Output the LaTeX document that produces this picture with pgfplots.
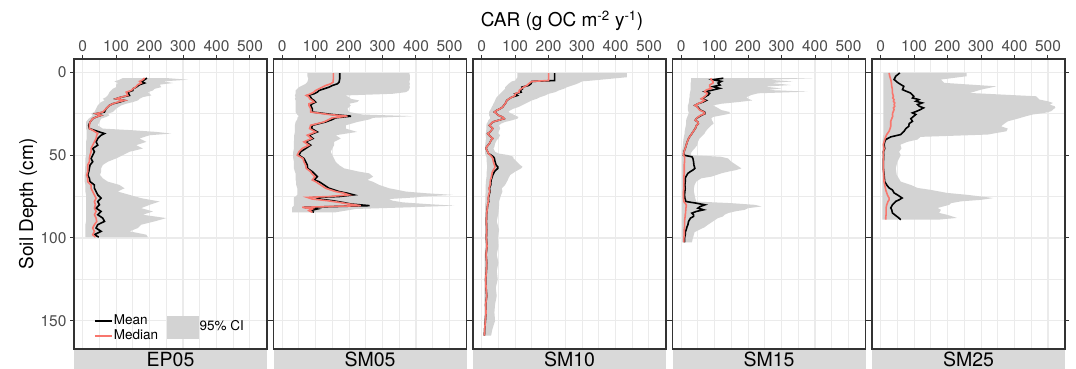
\documentclass[border=0pt]{standalone}
\usepackage{fontspec}
\setmainfont{TeX Gyre Heros}
\usepackage{pgfplots}
\pgfplotsset{compat=1.18}
\usepackage{pgfplotstable}
\usepgfplotslibrary{fillbetween}

\definecolor{medred}{HTML}{F8766D}
\definecolor{cigrey}{HTML}{D3D3D3}
\definecolor{stripgrey}{HTML}{D9D9D9}
\definecolor{gridgrey}{HTML}{EBEBEB}
\definecolor{ticklab}{HTML}{4D4D4D}
\definecolor{framec}{HTML}{333333}

\pgfplotstableread{
d mean med lo hi
3.5 192 185 120 250
4.5 185 180 110 315
5.5 175 170 95 240
6.5 185 175 105 270
7.5 170 165 100 230
9 160 158 100 235
10 150 150 90 215
11 150 145 85 210
12 135 130 80 195
14 140 135 75 205
15 115 115 70 180
16 100 100 60 170
17 125 125 65 165
18 110 105 55 150
19 90 90 50 130
20 80 80 45 115
22 70 70 40 100
24 65 60 35 90
25 40 40 25 75
26 55 55 30 80
27 40 40 25 70
28 30 30 18 55
30 22 22 10 50
32 18 20 10 45
34 20 20 10 60
35 35 30 12 150
36 50 38 12 220
37 65 45 12 265
38 55 42 12 200
40 45 40 12 170
42 40 35 10 190
44 45 30 10 160
46 30 25 10 180
48 35 25 10 140
50 30 22 10 120
52 25 20 8 100
54 30 20 8 75
56 22 15 8 60
58 20 15 7 55
60 18 15 7 55
62 15 12 6 52
64 20 15 6 60
66 22 15 6 75
68 35 25 8 110
70 35 25 8 125
72 40 30 8 105
74 45 35 10 140
76 55 40 10 175
78 45 35 10 230
80 50 38 10 200
82 40 35 10 175
84 55 40 10 210
86 45 35 10 180
88 60 40 10 250
90 65 42 10 215
92 45 35 8 175
94 40 30 8 165
96 55 35 8 140
98 35 30 8 190
99.5 48 38 8 195
}\tabEP

\pgfplotstableread{
d mean med lo hi
0.6 172 153 75 380
2 172 153 75 382
4 172 153 78 382
6 170 152 75 380
7 165 145 70 382
8 150 130 60 380
9 140 120 50 382
10 125 110 45 380
11 110 100 40 378
12 105 95 40 370
13 95 85 40 330
14 76 72 38 189
15 85 80 40 200
16 88 82 38 205
17 95 90 40 230
18 100 95 40 224
19 90 80 40 200
20 85 80 40 205
22 90 85 40 195
24 90 85 40 200
25.5 150 140 45 240
26.5 206 195 50 392
27.5 160 150 45 272
28.5 150 140 45 260
30 130 125 40 225
32 90 85 38 190
34 88 82 38 190
36 105 100 38 224
38 80 75 36 160
40 92 88 36 175
42 70 65 35 155
44 85 80 35 155
46 70 60 35 150
48 55 50 33 145
50 50 45 33 150
52 65 62 33 155
54 70 65 35 160
56 75 70 35 170
58 76 72 35 185
60 90 85 38 230
61 95 88 40 260
63 105 98 40 272
65 95 90 40 255
66 110 100 42 270
68 125 115 42 290
70 140 130 45 320
72 170 160 45 370
73 195 185 45 430
74 214 200 45 510
75 170 140 40 420
75.5 100 75 35 400
76.5 110 90 35 320
77.5 150 135 35 330
78.5 180 170 35 360
79.5 205 200 35 430
80.5 261 235 35 515
81.5 65 60 30 380
82.5 105 90 30 220
83.5 85 80 30 190
84.5 95 90 30 160
}\tabSMa

\pgfplotstableread{
d mean med lo hi
0.6 218 200 107 434
3 218 200 107 434
5 218 200 100 330
5.5 150 150 90 300
7 147 140 80 285
8 140 135 75 270
9 120 125 70 255
10 122 118 70 245
11 115 112 65 230
12 118 112 60 220
13 100 100 55 200
14 107 100 50 190
15 90 90 45 175
16 82 82 42 165
17 75 75 40 150
18 73 73 38 140
19 70 70 35 130
20 66 66 33 120
21 63 63 30 110
22 55 55 28 95
23 45 45 25 85
24 38 38 22 80
25 45 45 22 90
26 50 50 22 100
27 62 62 25 110
28 67 67 25 107
29 50 50 20 90
30 33 33 18 70
31 28 28 15 58
32 23 23 14 52
34 33 33 14 55
36 25 25 13 50
37 18 18 12 50
38 22 22 12 55
40 33 33 13 50
41 28 28 12 45
43 23 23 11 40
45 15 15 10 38
46 13 13 10 35
48 18 18 10 40
49 20 20 10 50
50 28 25 12 80
51 35 30 14 95
52 38 33 15 95
54 40 35 15 105
56 43 38 16 115
57 48 40 16 122
58 48 38 16 118
60 38 32 15 100
62 33 30 15 85
64 30 28 14 80
65 28 26 13 78
68 27 25 12 70
70 23 22 12 60
72 25 24 12 62
74 22 21 11 58
76 20 19 11 55
78 21 20 11 52
80 18 18 10 52
85 15 15 10 50
90 14 14 10 45
95 15 15 10 52
100 14 14 10 48
105 16 16 10 50
110 13 13 9 45
115 15 15 9 50
120 14 14 9 45
125 12 12 8 48
130 13 13 8 42
135 15 15 8 45
140 12 12 8 40
145 13 13 8 38
150 11 11 7 40
155 9 9 6 32
159 8 8 5 28
}\tabSMb

\pgfplotstableread{
d mean med lo hi
3.6 126 88 30 393
4.5 95 90 30 260
5.5 120 95 30 333
6.5 110 95 28 270
7.7 116 85 28 327
8.7 95 85 28 250
9.7 115 90 28 300
10.7 95 75 28 260
11.7 71 70 27 378
12.7 85 78 26 230
13.7 81 75 25 210
15 70 68 25 195
16 62 60 24 200
17 75 70 24 213
18 65 62 23 170
19 50 50 22 120
20 41 41 20 95
21 50 48 20 105
22.8 57 55 20 120
24 70 68 22 145
25 71 70 22 145
26 60 58 20 120
27 52 50 18 95
28 45 45 16 90
29 42 42 15 92
30 50 50 15 95
31 51 51 15 97
32 46 46 14 90
34 42 42 12 80
36 35 35 10 72
37 32 32 10 70
39 25 25 8 60
40 22 22 7 55
42 18 18 6 50
44 15 15 5 48
46 12 12 4 40
47 10 10 3 35
48.5 8 8 2 30
50 7 7 2 30
51 32 10 2 119
52 35 10 3 140
54 37 10 3 150
56 38 9 3 165
58 41 9 3 180
59 35 9 3 165
60 27 9 3 140
61 20 9 3 120
63 14 8 3 90
64 12 8 3 60
66 12 8 3 45
68 11 8 3 40
70 12 8 3 38
72 11 7 3 38
74 10 7 3 40
76 11 7 3 42
78 14 8 3 45
79 45 12 3 150
80 71 15 3 220
81 57 15 3 240
82 50 14 3 200
83 67 14 3 190
84 45 13 3 160
85 32 13 3 140
86 37 12 3 130
87 37 12 3 125
88 28 11 3 110
90 22 10 3 95
92 20 10 3 80
93.5 17 10 3 70
95 15 9 3 55
96.5 12 9 3 40
98 12 9 3 38
100 10 8 3 35
102.6 10 8 3 32
}\tabSMc

\pgfplotstableread{
d mean med lo hi
0.4 57 25 8 257
2.4 45 27 8 257
4.4 40 30 8 180
6.4 52 32 8 190
8.5 69 33 8 346
10.5 65 35 8 300
12.5 89 35 8 267
14.5 99 38 8 465
15.5 95 36 8 470
16.5 114 40 8 475
17.5 105 38 8 500
18.5 124 42 8 515
19.5 110 40 8 505
20.5 115 42 8 520
21.5 128 38 8 522
22.5 119 40 8 515
23.5 108 38 8 510
24.5 95 36 8 490
25.5 105 35 8 455
26.5 99 36 8 435
28 90 33 8 410
29.6 95 30 8 380
31 85 30 8 370
32.6 84 30 8 360
34 75 28 8 380
35.6 70 25 8 376
37.6 60 18 8 320
39 30 15 7 119
40.6 15 12 6 110
42 12 10 6 80
43.7 10 8 5 59
46 12 10 5 62
48 8 8 5 55
50 9 8 5 60
54 8 8 5 50
58 8 8 5 45
62 10 9 5 48
66 12 10 5 60
68 18 12 5 90
69.8 25 14 5 110
71 35 15 5 150
72.8 40 18 5 198
74 50 20 5 260
75.9 64 25 5 337
77 55 25 5 300
77.9 45 22 5 240
79 40 20 5 210
80 35 18 5 205
81.9 30 16 5 170
83 33 16 5 180
84.9 35 16 5 175
86 42 16 5 198
87.9 54 15 5 228
89 60 15 5 170
}\tabSMd

\pgfplotsset{panel/.style={
  scale only axis, width=193pt, height=290pt, anchor=south west,
  y dir=reverse, xmin=-26, xmax=551, ymin=-8, ymax=167,
  xtick={0,100,...,500}, minor xtick={50,150,...,450},
  ytick={0,50,100,150}, minor ytick={25,75,125},
  xtick pos=right, xticklabel pos=right,
  ytick pos=both, yticklabel pos=left,
  tick align=outside, major tick length=4pt, minor tick length=0pt,
  grid=both,
  major grid style={gridgrey, line width=1.1pt},
  minor grid style={gridgrey, line width=0.9pt},
  axis line style={framec, line width=1.2pt},
  major tick style={framec, line width=1pt},
  tick label style={ticklab, font=\fontsize{15.5}{16}\selectfont},
  /pgf/number format/assume math mode=true,
  scaled ticks=false,
}}

\newcommand{\drawpanel}[1]{%
  \addplot[draw=none, forget plot, name path=hi] table[x=hi, y=d] {#1};
  \addplot[draw=none, forget plot, name path=lo] table[x=lo, y=d] {#1};
  \addplot[cigrey, fill=cigrey, draw=none, forget plot] fill between[of=hi and lo, reverse=true];
  \addplot[black, line width=1.6pt, forget plot] table[x=mean, y=d] {#1};
  \addplot[medred, line width=1.6pt, forget plot] table[x=med, y=d] {#1};
}

\begin{document}
\begin{tikzpicture}[x=1pt, y=1pt]

% Panel 1
\begin{axis}[panel, at={(74pt,20pt)},
  ylabel={Soil Depth (cm)},
  every axis y label/.style={at={(rel axis cs:-0.238,0.5)}, rotate=90, anchor=center, font=\fontsize{19}{19}\selectfont},
  legend columns=2,
  legend cell align=left,
  legend style={at={(0.088,0.014)}, anchor=south west, draw=none, fill=none,
    font=\fontsize{13.5}{13.5}\selectfont, row sep=0.5pt,
    nodes={inner sep=1pt, text height=9.5pt, text depth=2.5pt},
    /tikz/every even column/.append style={column sep=8pt}},
]
\drawpanel{\tabEP}
\addlegendimage{black, line width=1.6pt}
\addlegendentry{Mean}
\addlegendimage{legend image code/.code={\path (0pt,0pt) rectangle (31pt,0pt); \fill[cigrey, overlay] (0pt,-17pt) rectangle (31pt,5pt);}}
\addlegendentry{\raisebox{-6pt}{95\% CI}}
\addlegendimage{draw=medred, line width=1.6pt}
\addlegendentry{Median}
\addlegendimage{empty legend}
\addlegendentry{}
\end{axis}
\fill[stripgrey] (74,-5) rectangle (267,18.5);
\node[anchor=base, font=\fontsize{19.5}{20}\selectfont] at (170.5,2.5) {EP05};

% Panel 2
\begin{axis}[panel, at={(273.5pt,20pt)}, yticklabels={}]
\drawpanel{\tabSMa}
\end{axis}
\fill[stripgrey] (273.5,-5) rectangle (466.5,18.5);
\node[anchor=base, font=\fontsize{19.5}{20}\selectfont] at (370,2.5) {SM05};

% Panel 3
\begin{axis}[panel, at={(473pt,20pt)}, yticklabels={}]
\drawpanel{\tabSMb}
\end{axis}
\fill[stripgrey] (473,-5) rectangle (666,18.5);
\node[anchor=base, font=\fontsize{19.5}{20}\selectfont] at (569.5,2.5) {SM10};

% Panel 4
\begin{axis}[panel, at={(672.5pt,20pt)}, yticklabels={}]
\drawpanel{\tabSMc}
\end{axis}
\fill[stripgrey] (672.5,-5) rectangle (865.5,18.5);
\node[anchor=base, font=\fontsize{19.5}{20}\selectfont] at (769,2.5) {SM15};

% Panel 5
\begin{axis}[panel, at={(872pt,20pt)}, yticklabels={}]
\drawpanel{\tabSMd}
\end{axis}
\fill[stripgrey] (872,-5) rectangle (1065,18.5);
\node[anchor=base, font=\fontsize{19.5}{20}\selectfont] at (968.5,2.5) {SM25};

\node[anchor=base, font=\fontsize{19}{19}\selectfont] at (562,342) {CAR (g OC m\textsuperscript{-2} y\textsuperscript{-1})};

\pgfresetboundingbox
\useasboundingbox (0,0) rectangle (1076,369);
\end{tikzpicture}
\end{document}
